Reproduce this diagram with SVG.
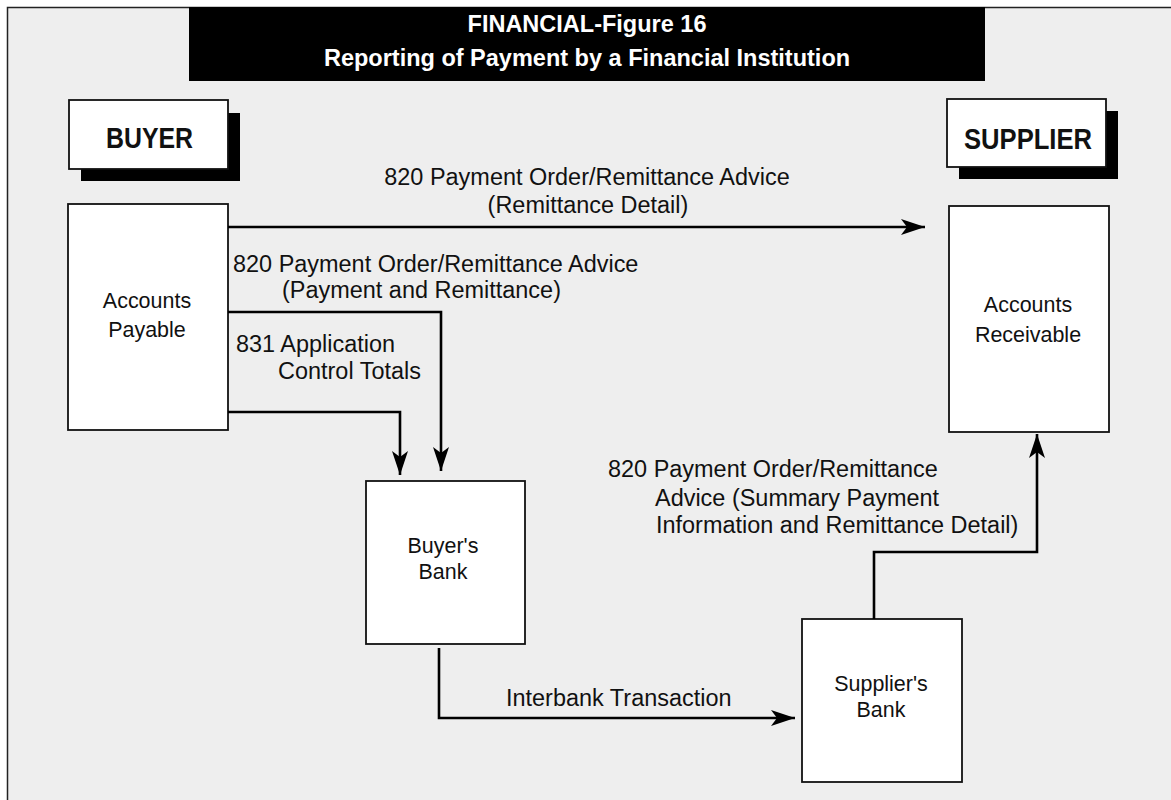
<svg xmlns="http://www.w3.org/2000/svg" width="1171" height="800" viewBox="0 0 1171 800">
<style>
.frame{fill:#eeeeee;stroke:#222;stroke-width:1.5}
.box{fill:#ffffff;stroke:#111;stroke-width:1.8}
.shadow{fill:#000}
.conn{fill:none;stroke:#000;stroke-width:2.6}
.lbl{font-family:"Liberation Sans",Arial,sans-serif;font-size:24.7px;fill:#111}
.node{font-family:"Liberation Sans",Arial,sans-serif;font-size:22.6px;fill:#111;text-anchor:middle}
.hdr{font-family:"Liberation Sans",Arial,sans-serif;font-weight:bold;font-size:29px;fill:#111;text-anchor:middle}
.title{font-family:"Liberation Sans",Arial,sans-serif;font-weight:bold;font-size:23.5px;fill:#fff;text-anchor:middle}
</style>
<defs>
<marker id="arr" markerUnits="userSpaceOnUse" viewBox="0 0 24 16" refX="24" refY="8" markerWidth="24" markerHeight="16" orient="auto">
<path d="M0,0 L24,8 L0,16 L6,8 Z" fill="#000"/>
</marker>
</defs>
<rect class="frame" x="7.5" y="7.5" width="1170" height="800"/>
<g id="title">
<rect x="189" y="7" width="796" height="74" fill="#000"/>
<text class="title" x="587" y="32">FINANCIAL-Figure 16</text>
<text class="title" x="587" y="66">Reporting of Payment by a Financial Institution</text>
</g>
<g id="buyer">
<rect class="shadow" x="81" y="113" width="159" height="68"/>
<rect class="box" x="69" y="100" width="159" height="69"/>
<text class="hdr" x="149.5" y="148" textLength="87" lengthAdjust="spacingAndGlyphs">BUYER</text>
</g>
<g id="supplier">
<rect class="shadow" x="959" y="111" width="159" height="68"/>
<rect class="box" x="947" y="99" width="159" height="68"/>
<text class="hdr" x="1028" y="149" textLength="128" lengthAdjust="spacingAndGlyphs">SUPPLIER</text>
</g>
<g id="accounts-payable">
<rect class="box" x="68" y="204" width="160" height="226"/>
<text class="node" x="147" y="308" transform="matrix(0.95 0 0 1 7.35 0)">Accounts</text>
<text class="node" x="147" y="337" transform="matrix(0.95 0 0 1 7.35 0)">Payable</text>
</g>
<g id="accounts-receivable">
<rect class="box" x="949" y="206" width="160" height="226"/>
<text class="node" x="1028" y="312" transform="matrix(0.95 0 0 1 51.4 0)">Accounts</text>
<text class="node" x="1028" y="342" transform="matrix(0.95 0 0 1 51.4 0)">Receivable</text>
</g>
<g id="buyers-bank">
<rect class="box" x="366" y="481" width="159" height="163"/>
<text class="node" x="443" y="553" transform="matrix(0.95 0 0 1 22.15 0)">Buyer's</text>
<text class="node" x="443" y="579" transform="matrix(0.95 0 0 1 22.15 0)">Bank</text>
</g>
<g id="suppliers-bank">
<rect class="box" x="802" y="619" width="160" height="163"/>
<text class="node" x="881" y="691" transform="matrix(0.95 0 0 1 44.05 0)">Supplier's</text>
<text class="node" x="881" y="717" transform="matrix(0.95 0 0 1 44.05 0)">Bank</text>
</g>
<g id="connectors">
<path class="conn" d="M228,227 H925" marker-end="url(#arr)"/>
<path class="conn" d="M228,312 H441 V471" marker-end="url(#arr)"/>
<path class="conn" d="M228,412 H400 V475" marker-end="url(#arr)"/>
<path class="conn" d="M439,648 V718 H795" marker-end="url(#arr)"/>
<path class="conn" d="M874,619 V552 H1037 V434" marker-end="url(#arr)"/>
</g>
<g id="labels">
<text class="lbl" x="587" y="185" text-anchor="middle" transform="matrix(0.95 0 0 1 29.35 0)">820 Payment Order/Remittance Advice</text>
<text class="lbl" x="588" y="213" text-anchor="middle" transform="matrix(0.95 0 0 1 29.4 0)">(Remittance Detail)</text>
<text class="lbl" x="233" y="272" transform="matrix(0.95 0 0 1 11.65 0)">820 Payment Order/Remittance Advice</text>
<text class="lbl" x="282" y="298" transform="matrix(0.95 0 0 1 14.1 0)">(Payment and Remittance)</text>
<text class="lbl" x="236" y="352" transform="matrix(0.95 0 0 1 11.8 0)">831 Application</text>
<text class="lbl" x="278" y="379" transform="matrix(0.95 0 0 1 13.9 0)">Control Totals</text>
<text class="lbl" x="506" y="706" transform="matrix(0.95 0 0 1 25.3 0)">Interbank Transaction</text>
<text class="lbl" x="608" y="477" transform="matrix(0.95 0 0 1 30.4 0)">820 Payment Order/Remittance</text>
<text class="lbl" x="655" y="506" transform="matrix(0.95 0 0 1 32.75 0)">Advice (Summary Payment</text>
<text class="lbl" x="656" y="533" transform="matrix(0.95 0 0 1 32.8 0)">Information and Remittance Detail)</text>
</g>
</svg>
